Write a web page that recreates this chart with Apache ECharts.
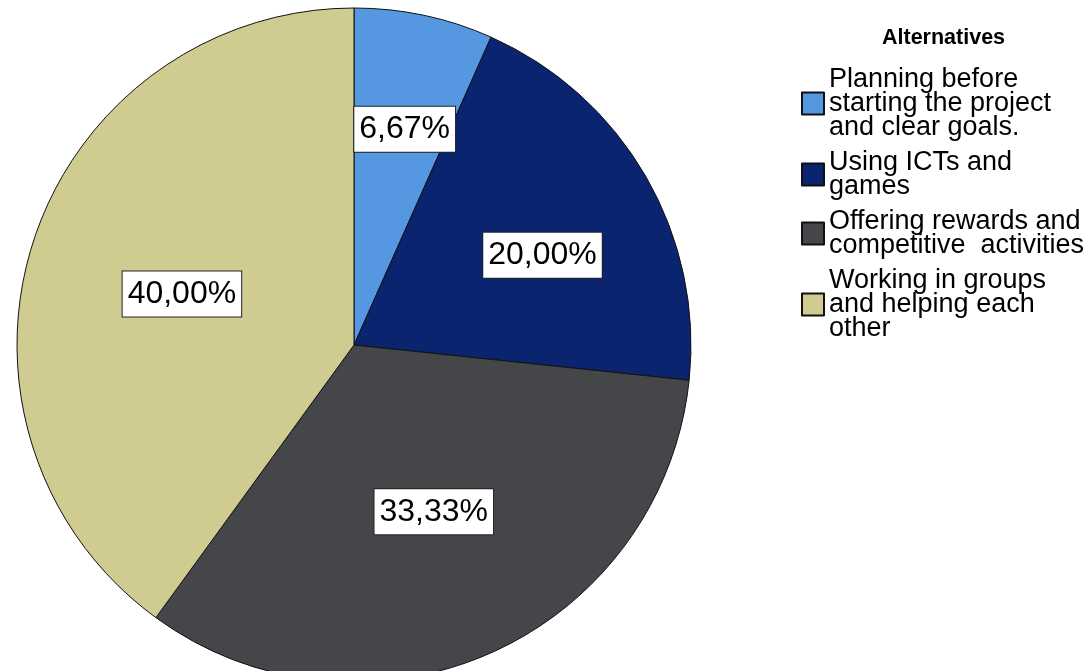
<!DOCTYPE html>
<html>
<head>
<meta charset="utf-8">
<script src="https://cdn.jsdelivr.net/npm/echarts@6/dist/echarts.min.js"></script>
<style>
  html, body { margin: 0; padding: 0; background: #fff; }
  #chart { width: 1087px; height: 671px; }
</style>
</head>
<body>
<div id="chart"></div>
<script>
// Respondent counts per alternative (15 answers in total)
const categories = [
  'Planning before starting the project and clear goals.',
  'Using ICTs and games',
  'Offering rewards and competitive  activities',
  'Working in groups and helping each other'
];
const counts = [1, 3, 5, 6];

// Legend wording, broken over lines
const legendLines = {
  'Planning before starting the project and clear goals.': 'Planning before\nstarting the project\nand clear goals.',
  'Using ICTs and games': 'Using ICTs and\ngames',
  'Offering rewards and competitive  activities': 'Offering rewards and\ncompetitive  activities',
  'Working in groups and helping each other': 'Working in groups\nand helping each\nother'
};

const colors = ['#5597e1', '#0a2470', '#454649', '#d0cb91'];
// Fine placement of the percentage boxes relative to the slice middle
const labelShift = [[15, -48], [40, -4], [10, 10], [-9, 2]];

const font = '"Liberation Sans", Arial, Helvetica, sans-serif';

const chart = echarts.init(document.getElementById('chart'), null, { renderer: 'canvas' });
chart.setOption({
  animation: false,
  color: colors,
  title: {
    text: 'Alternatives',
    left: 882,
    top: 27,
    padding: 0,
    textStyle: { fontFamily: font, fontSize: 21.5, fontWeight: 'bold', color: '#000' }
  },
  legend: {
    orient: 'vertical',
    left: 801,
    top: 66,
    padding: 0,
    itemGap: 8,
    itemWidth: 22,
    itemHeight: 22,
    icon: 'rect',
    selectedMode: false,
    data: categories,
    formatter: name => legendLines[name],
    textStyle: { fontFamily: font, fontSize: 27, lineHeight: 24, color: '#000' }
  },
  series: [{
    type: 'pie',
    center: [354, 345],
    radius: 337,
    startAngle: 90,
    clockwise: true,
    silent: true,
    avoidLabelOverlap: false,
    itemStyle: { borderColor: '#111', borderWidth: 1 },
    label: {
      show: true,
      position: 'inside',
      formatter: p => p.percent.toFixed(2).replace('.', ',') + '%',
      fontFamily: font,
      fontSize: 32,
      lineHeight: 36,
      color: '#000',
      backgroundColor: '#fff',
      borderColor: '#222',
      borderWidth: 1,
      padding: [5, 5, 4, 5]
    },
    labelLine: { show: false },
    labelLayout: p => ({ dx: labelShift[p.dataIndex][0], dy: labelShift[p.dataIndex][1] }),
    data: categories.map((c, i) => ({ name: c, value: counts[i] }))
  }]
});
</script>
</body>
</html>
